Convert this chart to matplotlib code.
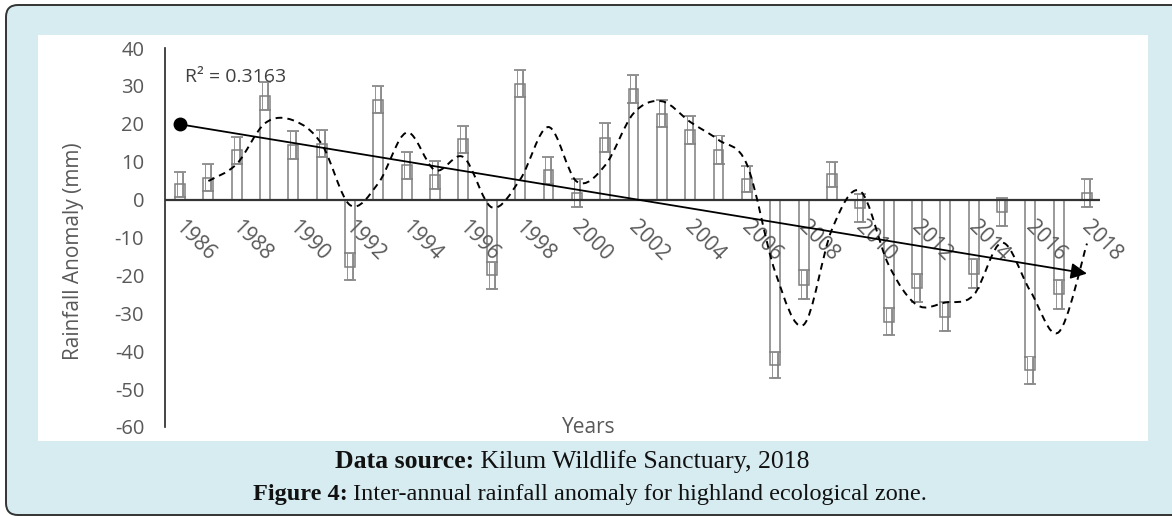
import numpy as np
import matplotlib
matplotlib.use("Agg")
import matplotlib.pyplot as plt
from matplotlib.patches import FancyBboxPatch, Rectangle, PathPatch
from matplotlib.path import Path
from matplotlib.transforms import IdentityTransform

# --- data ---
years = list(range(1986, 2019))
anomaly = [4.0, 5.8, 13.0, 27.3, 14.5, 14.8, -17.7, 26.4, 9.0, 6.5, 15.9,
           -20.0, 30.6, 7.7, 1.8, 16.3, 29.2, 22.7, 18.3, 13.2, 5.4,
           -43.6, -22.5, 6.7, -2.2, -32.2, -23.4, -30.9, -19.5, -3.2,
           -45.0, -25.0, 1.8]
errors = [3.4, 3.6, 3.6, 3.6, 3.7, 3.6, 3.6, 3.6, 3.5, 3.6, 3.6,
          3.6, 3.6, 3.6, 3.7, 3.8, 3.6, 3.6, 3.7, 3.7, 3.5,
          3.4, 3.8, 3.3, 3.6, 3.5, 3.7, 3.8, 3.8, 3.7,
          3.6, 3.8, 3.7]
tick_years = list(range(1986, 2019, 2))
y_ticks = list(range(-60, 41, 10))
r2_label = "R\u00b2 = 0.3163"
y_label = "Rainfall Anomaly (mm)"
x_label = "Years"
caption1 = ("Data source:", " Kilum Wildlife Sanctuary, 2018")
caption2 = ("Figure 4:", " Inter-annual rainfall anomaly for highland ecological zone.")

W, H = 1172, 516
GREY = "#595959"
plt.rcParams["font.family"] = ["Open Sans", "DejaVu Sans"]
plt.rcParams["axes.unicode_minus"] = False

fig = plt.figure(figsize=(W / 100, H / 100), dpi=100)
fig.patch.set_facecolor("white")

# light blue frame and white chart panel (pixel coords), behind the axes
px = IdentityTransform()
fig.add_artist(FancyBboxPatch((6, 1), 1220, 510,
                              boxstyle="round,pad=0,rounding_size=12",
                              transform=px, fc="#d7ecf1", ec="#333333", lw=1.4,
                              zorder=-3))
fig.add_artist(Rectangle((38, H - 441), 1110, 406, transform=px,
                         fc="white", ec="none", zorder=-2))

ax = fig.add_axes([165 / W, (H - 427) / H, (1100 - 165) / W, (427 - 48) / H])
ax.set_facecolor("none")

# error bars drawn as outlined strokes, then hollow bars on top
lo = np.array(anomaly) - np.array(errors)
hi = np.array(anomaly) + np.array(errors)
ax.errorbar(years, anomaly, yerr=errors, fmt="none", ecolor="#8a8a8a",
            elinewidth=5, capsize=4.5, capthick=1.3, zorder=2)
ax.vlines(years, lo + 0.25, hi - 0.25, color="white", lw=3, zorder=2.5)
ax.bar(years, anomaly, width=0.35, facecolor="none", edgecolor="#7f7f7f",
       linewidth=1.1, zorder=3)

# 2-period moving average, smoothed (Bezier path through the points)
ma_x = np.array(years[1:], dtype=float)
ma_y = (np.array(anomaly[:-1]) + np.array(anomaly[1:])) / 2
pts = np.column_stack([ma_x, ma_y])
ext = np.vstack([pts[0], pts, pts[-1]])
verts = [pts[0]]
codes = [Path.MOVETO]
for i in range(len(pts) - 1):
    p0, p1, p2, p3 = ext[i], ext[i + 1], ext[i + 2], ext[i + 3]
    verts += [p1 + (p2 - p0) / 6, p2 - (p3 - p1) / 6, p2]
    codes += [Path.CURVE4] * 3
ax.add_patch(PathPatch(Path(verts, codes), fill=False, edgecolor="black",
                       lw=1.4, linestyle=(0, (3.5, 2.6)), zorder=4))

# linear trend with start dot and end arrow
slope, icpt = np.polyfit(years, anomaly, 1)
y0 = slope * years[0] + icpt
y1 = slope * years[-1] + icpt
ax.annotate("", xy=(years[-1], y1), xytext=(years[0], y0),
            arrowprops=dict(arrowstyle="-|>", color="black", lw=1.3,
                            mutation_scale=24, shrinkA=0, shrinkB=0),
            zorder=5)
ax.plot([years[0]], [y0], "o", color="black", ms=9, zorder=5)

ax.text(1986.18, 30.9, r2_label, fontsize=14, color="#404040",
        ha="left", va="baseline")

ax.axhline(0, color="#333333", lw=1.6, zorder=3.5)
ax.set_xlim(1985.47, 2018.46)
ax.set_ylim(-60, 40)
ax.set_yticks(y_ticks)
ax.set_xticks([])
ax.tick_params(axis="y", length=0, pad=15, labelsize=14.5, labelcolor=GREY)
for s in ("top", "right", "bottom"):
    ax.spines[s].set_visible(False)
ax.spines["left"].set_color("#262626")
ax.spines["left"].set_linewidth(1.2)

for yr in tick_years:
    ax.annotate(str(yr), xy=(yr, 0), xytext=(15, -41), textcoords="offset pixels",
                rotation=-45, rotation_mode="anchor", ha="center", va="center",
                fontsize=15, color=GREY)

fig.text(74 / W, 1 - 251 / H, y_label, rotation=90, ha="center", va="center",
         fontsize=15, color=GREY)
fig.text(589 / W, 1 - 433 / H, x_label, ha="center", va="baseline",
         fontsize=15, color=GREY)

# captions: bold lead-in followed by regular text, centred on a line
renderer = fig.canvas.get_renderer()


def caption(parts, cx, base, size):
    kw = dict(fontsize=size, family="Liberation Serif", color="#111111",
              va="baseline", transform=px)
    b = fig.text(0, H - base, parts[0], weight="bold", **kw)
    r = fig.text(0, H - base, parts[1], **kw)
    wb = b.get_window_extent(renderer).width
    wr = r.get_window_extent(renderer).width
    x0 = cx - (wb + wr) / 2
    b.set_x(x0)
    r.set_x(x0 + wb)


caption(caption1, 572, 468, 18.5)
caption(caption2, 590, 500, 17.5)

fig.savefig("out.png", dpi=100)
